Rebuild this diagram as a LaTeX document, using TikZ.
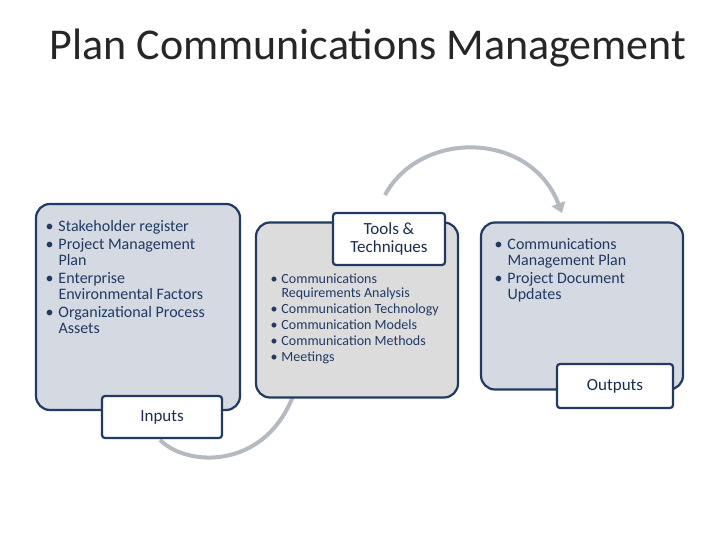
\documentclass[tikz,border=0pt]{standalone}
\usepackage{fontspec}
\setmainfont{Carlito}
\usetikzlibrary{arrows.meta}
\definecolor{navy}{HTML}{1F3A64}
\definecolor{bluegray}{HTML}{D5D9E1}
\definecolor{lgray}{HTML}{DCDCDC}
\definecolor{arc}{HTML}{B4B9C2}
\tikzset{
  panel/.style={draw=navy,line width=2.2pt,rounded corners=14pt},
  tag/.style={draw=navy,line width=2.2pt,fill=white,rounded corners=3pt,align=center,text=navy!80!black,font=\fontsize{17}{19}\selectfont},
  flow/.style={draw=arc,line width=4pt},
  txt/.style={align=left,anchor=north west,text=navy}
}
\begin{document}
\begin{tikzpicture}[x=1pt,y=-1pt]
\useasboundingbox (0,0) rectangle (720,540);
% arcs
\coordinate (a1) at (160,440);
\coordinate (a2) at (300,372);
\draw[flow] (a1) .. controls (190,470) and (280,470) .. (a2);
\coordinate (b1) at (385,195);
\coordinate (b2) at (562,213);
\draw[flow,-{Triangle[length=10pt,width=14pt]}] (b1) .. controls (420,130) and (530,130) .. (b2);
% title
\node[text=black!85] (title) at (368,48) {\fontsize{44}{50}\selectfont Plan Communications Management};
% panels
\node[panel,fill=bluegray,minimum width=204pt,minimum height=206pt] (p1) at (138,307) {};
\node[panel,fill=lgray,minimum width=202pt,minimum height=175pt] (p2) at (357,310) {};
\node[panel,fill=bluegray,minimum width=202pt,minimum height=167pt] (p3) at (582,306) {};
% tags
\node[tag,minimum width=120pt,minimum height=42pt] (t1) at (162,417) {Inputs};
\node[tag,minimum width=112pt,minimum height=52pt] (t2) at (389,239) {Tools \&\\[-1pt]Techniques};
\node[tag,minimum width=116pt,minimum height=44pt] (t3) at (615,386) {Outputs};
% texts
\node[txt,font=\fontsize{16}{19}\selectfont] (x1) at (42,215) {\begin{tabular}{@{}l@{\hspace{5pt}}l@{}}
\textbullet & Stakeholder register\\[-1pt]
\textbullet & Project Management\\[-3pt]
 & Plan\\[-1pt]
\textbullet & Enterprise\\[-3pt]
 & Environmental Factors\\[-1pt]
\textbullet & Organizational Process\\[-3pt]
 & Assets
\end{tabular}};
\node[txt,font=\fontsize{14}{17}\selectfont] (x2) at (267,268) {\begin{tabular}{@{}l@{\hspace{4pt}}l@{}}
\textbullet & Communications\\[-3pt]
 & Requirements Analysis\\[-1pt]
\textbullet & Communication Technology\\[-1pt]
\textbullet & Communication Models\\[-1pt]
\textbullet & Communication Methods\\[-1pt]
\textbullet & Meetings
\end{tabular}};
\node[txt,font=\fontsize{16}{19}\selectfont] (x3) at (491,233) {\begin{tabular}{@{}l@{\hspace{5pt}}l@{}}
\textbullet & Communications\\[-3pt]
 & Management Plan\\[-1pt]
\textbullet & Project Document\\[-3pt]
 & Updates
\end{tabular}};
\end{tikzpicture}
\end{document}
